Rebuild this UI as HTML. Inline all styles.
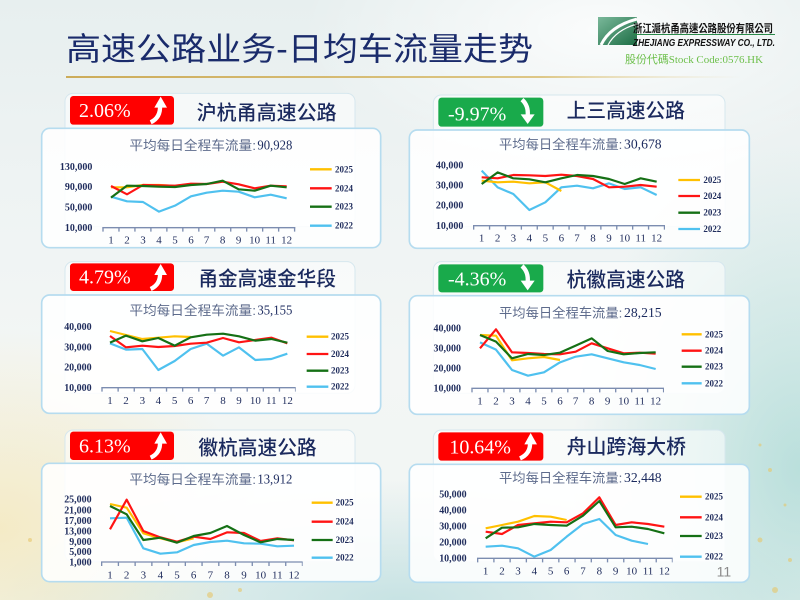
<!DOCTYPE html>
<html>
<head>
<meta charset="utf-8">
<style>
html,body{margin:0;padding:0;}
body{width:800px;height:600px;overflow:hidden;position:relative;
background:
 radial-gradient(ellipse 260px 200px at 0% 88%, rgba(246,226,160,0.55), rgba(246,226,160,0) 100%),
 radial-gradient(ellipse 230px 330px at 100% 78%, rgba(140,205,200,0.55), rgba(140,205,200,0) 100%),
 radial-gradient(ellipse 420px 120px at 50% 100%, rgba(165,212,215,0.55), rgba(165,212,215,0) 100%),
 radial-gradient(ellipse 300px 140px at 75% 5%, rgba(255,255,255,0.8), rgba(255,255,255,0) 100%),
 linear-gradient(180deg,#e7efef 0%,#eef3f3 30%,#f3f6f5 60%,#f1f5f3 100%);}
svg{position:absolute;left:0;top:0;}
.yl{font-family:"Liberation Serif",serif;font-weight:bold;font-size:30px;fill:#1f2c5c;text-anchor:end;}
.xl{font-family:"Liberation Serif",serif;font-size:33px;fill:#1f2c5c;text-anchor:middle;}
.lg{font-family:"Liberation Serif",serif;font-weight:bold;font-size:27px;fill:#1f2c5c;}
.tt{font-family:"Liberation Sans","Noto Sans CJK SC",sans-serif;font-weight:500;font-size:60px;fill:#1b2a5e;}
.st{font-family:"Liberation Sans","Noto Sans CJK SC",sans-serif;font-size:39px;fill:#5d6b8c;}
.num{font-family:"Liberation Serif",serif;font-size:40px;fill:#1b2a5e;}
.bt{font-family:"Liberation Serif",serif;font-size:60px;fill:#ffffff;}
.hc{fill:#ffffff;fill-opacity:0.55;stroke:#d6e7ee;stroke-width:3;}
.cc{fill:#ffffff;fill-opacity:0.86;stroke:#b6dcef;stroke-width:5;}
.ax{stroke:#7c8db0;stroke-width:4;fill:none;}
.tk{stroke:#7c8db0;stroke-width:12;fill:none;}
.o{stroke:#ffc000;stroke-width:6.5;fill:none;stroke-linejoin:round;}
.r{stroke:#ff1414;stroke-width:6.5;fill:none;stroke-linejoin:round;}
.g{stroke:#157015;stroke-width:6.5;fill:none;stroke-linejoin:round;}
.b{stroke:#4fc1ef;stroke-width:6.5;fill:none;stroke-linejoin:round;}
.lo{stroke:#ffc000;stroke-width:7;}
.lr{stroke:#ff1414;stroke-width:7;}
.lgr{stroke:#157015;stroke-width:7;}
.lb{stroke:#4fc1ef;stroke-width:7;}
</style>
</head>
<body>
<svg width="800" height="600" viewBox="0 0 800 600" xmlns="http://www.w3.org/2000/svg">
<defs>
<linearGradient id="gold" x1="0" x2="1" y1="0" y2="0">
<stop offset="0" stop-color="#c9a449" stop-opacity="0.9"/>
<stop offset="0.7" stop-color="#d8bb6a" stop-opacity="0.8"/>
<stop offset="1" stop-color="#e8d9a8" stop-opacity="0"/>
</linearGradient>
<linearGradient id="logoG" x1="0" x2="1" y1="0" y2="1">
<stop offset="0" stop-color="#7ab89a"/>
<stop offset="1" stop-color="#1d6e45"/>
</linearGradient>
</defs>

<g fill="#e6c76a" opacity="0.6">
<circle cx="770" cy="470" r="2"/><circle cx="785" cy="505" r="1.5"/><circle cx="760" cy="540" r="2.5"/>
<circle cx="790" cy="560" r="2"/><circle cx="775" cy="590" r="3"/><circle cx="30" cy="540" r="2"/>
<circle cx="210" cy="595" r="3"/><circle cx="240" cy="590" r="2"/><circle cx="760" cy="445" r="1.5"/>
</g>

<text x="66" y="60" textLength="467" lengthAdjust="spacingAndGlyphs" style="font-family:'Liberation Sans','Noto Sans CJK SC',sans-serif;font-size:32px;fill:#1a2b6b;">高速公路业务-日均车流量走势</text>
<rect x="66" y="76" width="676" height="2" fill="url(#gold)"/>

<polygon points="598,17 637,17 637,45 598,45" fill="url(#logoG)"/>
<path d="M601,45 Q610,26 637,19" stroke="#ffffff" stroke-width="3" fill="none"/>
<path d="M608,45 Q616,30 637,24" stroke="#ffffff" stroke-width="1.2" fill="none"/>
<text x="633" y="32" textLength="140" lengthAdjust="spacingAndGlyphs" style="font-family:'Liberation Sans','Noto Sans CJK TC',sans-serif;font-weight:bold;font-size:11px;fill:#111;">浙江滬杭甬高速公路股份有限公司</text>
<rect x="633" y="34" width="142" height="1" fill="#2a8a4a"/>
<text x="633" y="46" textLength="142" lengthAdjust="spacingAndGlyphs" style="font-family:'Liberation Sans',sans-serif;font-weight:bold;font-style:italic;font-size:10px;fill:#111;">ZHEJIANG EXPRESSWAY CO., LTD.</text>
<text x="625" y="63" textLength="138" lengthAdjust="spacingAndGlyphs" style="font-family:'Liberation Serif','Noto Sans CJK TC',serif;font-size:11px;fill:#6cbf4a;">股份代碼Stock Code:0576.HK</text>

<!-- ===== Panel 1 ===== -->
<g transform="translate(40,85) scale(0.333333)">
<rect class="hc" x="75" y="25" width="870" height="400" rx="24"/>
<rect class="cc" x="5" y="130" width="1017" height="358" rx="24"/>
<rect x="90" y="33" width="312" height="86" rx="10" fill="#ff0000"/>
<text class="bt" x="117" y="96">2.06%</text>
<path d="M332,112 Q362,98 360,62" stroke="#fff" stroke-width="13" fill="none"/>
<polygon points="362,35 381,68 343,68" fill="#fff"/>
<text class="tt" x="470" y="103" textLength="420" lengthAdjust="spacingAndGlyphs">沪杭甬高速公路</text>
<text class="st" x="268" y="195" textLength="380" lengthAdjust="spacingAndGlyphs">平均每日全程车流量:</text>
<text class="num" x="652" y="194" textLength="105" lengthAdjust="spacingAndGlyphs">90,928</text>
<text class="yl" x="157" y="255">130,000</text>
<text class="yl" x="157" y="315">90,000</text>
<text class="yl" x="157" y="377">50,000</text>
<text class="yl" x="157" y="438">10,000</text>
<line class="ax" x1="187" y1="428" x2="766" y2="428"/>
<line class="tk" x1="187" y1="434" x2="766" y2="434" stroke-dasharray="4 43.9"/>
<g class="xl">
<text x="213" y="475">1</text><text x="261" y="475">2</text><text x="309" y="475">3</text><text x="357" y="475">4</text>
<text x="405" y="475">5</text><text x="453" y="475">6</text><text x="500" y="475">7</text><text x="548" y="475">8</text>
<text x="596" y="475">9</text><text x="644" y="475">10</text><text x="692" y="475">11</text><text x="740" y="475">12</text>
</g>
<polyline class="b" points="213,335 261,349 309,351 357,380 405,362 453,334 500,323 548,317 596,320 644,337 692,329 740,340"/>
<polyline class="o" points="213,307 261,307 309,300 357,300 405,303 453,297"/>
<polyline class="r" points="213,303 261,328 309,300 357,301 405,302 453,296 500,297 548,290 596,298 644,310 692,302 740,304"/>
<polyline class="g" points="213,338 261,302 309,303 357,305 405,306 453,300 500,297 548,287 596,313 644,317 692,302 740,307"/>
<line class="lo" x1="810" y1="253" x2="875" y2="253"/><text class="lg" x="885" y="262">2025</text>
<line class="lr" x1="810" y1="310" x2="875" y2="310"/><text class="lg" x="885" y="319">2024</text>
<line class="lgr" x1="810" y1="365" x2="875" y2="365"/><text class="lg" x="885" y="374">2023</text>
<line class="lb" x1="810" y1="422" x2="875" y2="422"/><text class="lg" x="885" y="431">2022</text>
</g>

<!-- ===== Panel 2 ===== -->
<g transform="translate(400,85) scale(0.333333)">
<rect class="hc" x="100" y="30" width="875" height="395" rx="24"/>
<rect class="cc" x="28" y="135" width="1020" height="355" rx="24"/>
<rect x="115" y="38" width="315" height="87" rx="10" fill="#19aa4b"/>
<text class="bt" x="144" y="106">-9.97%</text>
<path d="M366,44 Q386,62 383,92" stroke="#fff" stroke-width="13" fill="none"/>
<polygon points="362,88 404,88 383,117" fill="#fff"/>
<text class="tt" x="500" y="98" textLength="355" lengthAdjust="spacingAndGlyphs">上三高速公路</text>
<text class="st" x="297" y="192" textLength="370" lengthAdjust="spacingAndGlyphs">平均每日全程车流量:</text>
<text class="num" x="672" y="191" textLength="113" lengthAdjust="spacingAndGlyphs">30,678</text>
<text class="yl" x="190" y="250">40,000</text>
<text class="yl" x="190" y="310">30,000</text>
<text class="yl" x="190" y="370">20,000</text>
<text class="yl" x="190" y="432">10,000</text>
<line class="ax" x1="219" y1="422" x2="795" y2="422"/>
<line class="tk" x1="219" y1="428" x2="795" y2="428" stroke-dasharray="4 43.7"/>
<g class="xl">
<text x="245" y="470">1</text><text x="293" y="470">2</text><text x="340" y="470">3</text><text x="388" y="470">4</text>
<text x="436" y="470">5</text><text x="484" y="470">6</text><text x="531" y="470">7</text><text x="579" y="470">8</text>
<text x="627" y="470">9</text><text x="674" y="470">10</text><text x="722" y="470">11</text><text x="770" y="470">12</text>
</g>
<polyline class="b" points="245,257 293,307 340,327 388,375 436,352 484,307 531,302 579,310 627,295 674,312 722,307 770,330"/>
<polyline class="o" points="245,287 293,292 340,290 388,295 436,292 484,318"/>
<polyline class="r" points="245,277 293,280 340,270 388,271 436,273 484,269 531,273 579,282 627,307 674,305 722,300 770,305"/>
<polyline class="g" points="245,297 293,262 340,280 388,283 436,292 484,280 531,270 579,273 627,282 674,297 722,280 770,290"/>
<line class="lo" x1="835" y1="285" x2="900" y2="285"/><text class="lg" x="910" y="294">2025</text>
<line class="lr" x1="835" y1="333" x2="900" y2="333"/><text class="lg" x="910" y="342">2024</text>
<line class="lgr" x1="835" y1="383" x2="900" y2="383"/><text class="lg" x="910" y="392">2023</text>
<line class="lb" x1="835" y1="432" x2="900" y2="432"/><text class="lg" x="910" y="441">2022</text>
</g>

<!-- ===== Panel 3 ===== -->
<g transform="translate(40,255) scale(0.333333)">
<rect class="hc" x="75" y="20" width="870" height="395" rx="24"/>
<rect class="cc" x="5" y="120" width="1017" height="355" rx="24"/>
<rect x="90" y="25" width="312" height="83" rx="10" fill="#ff0000"/>
<text class="bt" x="117" y="86">4.79%</text>
<path d="M332,102 Q362,88 360,54" stroke="#fff" stroke-width="13" fill="none"/>
<polygon points="362,27 381,60 343,60" fill="#fff"/>
<text class="tt" x="475" y="91" textLength="413" lengthAdjust="spacingAndGlyphs">甬金高速金华段</text>
<text class="st" x="268" y="180" textLength="380" lengthAdjust="spacingAndGlyphs">平均每日全程车流量:</text>
<text class="num" x="652" y="179" textLength="105" lengthAdjust="spacingAndGlyphs">35,155</text>
<text class="yl" x="155" y="225">40,000</text>
<text class="yl" x="155" y="287">30,000</text>
<text class="yl" x="155" y="347">20,000</text>
<text class="yl" x="155" y="408">10,000</text>
<line class="ax" x1="184" y1="398" x2="767" y2="398"/>
<line class="tk" x1="184" y1="404" x2="767" y2="404" stroke-dasharray="4 44.4"/>
<g class="xl">
<text x="210" y="447">1</text><text x="258" y="447">2</text><text x="307" y="447">3</text><text x="355" y="447">4</text>
<text x="404" y="447">5</text><text x="452" y="447">6</text><text x="500" y="447">7</text><text x="549" y="447">8</text>
<text x="597" y="447">9</text><text x="646" y="447">10</text><text x="694" y="447">11</text><text x="742" y="447">12</text>
</g>
<polyline class="b" points="210,265 258,284 307,282 355,345 404,318 452,282 500,266 549,302 597,277 646,315 694,312 742,296"/>
<polyline class="o" points="210,228 258,240 307,252 355,248 404,244 452,246"/>
<polyline class="r" points="210,243 258,277 307,272 355,276 404,273 452,266 500,263 549,249 597,262 646,255 694,248 742,265"/>
<polyline class="g" points="210,263 258,242 307,259 355,249 404,272 452,247 500,239 549,236 597,244 646,257 694,252 742,263"/>
<line class="lo" x1="800" y1="245" x2="865" y2="245"/><text class="lg" x="873" y="254">2025</text>
<line class="lr" x1="800" y1="297" x2="865" y2="297"/><text class="lg" x="873" y="306">2024</text>
<line class="lgr" x1="800" y1="347" x2="865" y2="347"/><text class="lg" x="873" y="356">2023</text>
<line class="lb" x1="800" y1="395" x2="865" y2="395"/><text class="lg" x="873" y="404">2022</text>
</g>

<!-- ===== Panel 4 ===== -->
<g transform="translate(400,255) scale(0.333333)">
<rect class="hc" x="100" y="20" width="875" height="395" rx="24"/>
<rect class="cc" x="28" y="122" width="1020" height="356" rx="24"/>
<rect x="115" y="28" width="315" height="84" rx="10" fill="#19aa4b"/>
<text class="bt" x="144" y="92">-4.36%</text>
<path d="M366,33 Q386,51 383,81" stroke="#fff" stroke-width="13" fill="none"/>
<polygon points="362,77 404,77 383,106" fill="#fff"/>
<text class="tt" x="500" y="95" textLength="355" lengthAdjust="spacingAndGlyphs">杭徽高速公路</text>
<text class="st" x="297" y="187" textLength="370" lengthAdjust="spacingAndGlyphs">平均每日全程车流量:</text>
<text class="num" x="672" y="186" textLength="113" lengthAdjust="spacingAndGlyphs">28,215</text>
<text class="yl" x="183" y="230">40,000</text>
<text class="yl" x="183" y="290">30,000</text>
<text class="yl" x="183" y="350">20,000</text>
<text class="yl" x="183" y="410">10,000</text>
<line class="ax" x1="214" y1="400" x2="792" y2="400"/>
<line class="tk" x1="214" y1="406" x2="792" y2="406" stroke-dasharray="4 43.9"/>
<g class="xl">
<text x="240" y="448">1</text><text x="288" y="448">2</text><text x="336" y="448">3</text><text x="384" y="448">4</text>
<text x="432" y="448">5</text><text x="480" y="448">6</text><text x="527" y="448">7</text><text x="575" y="448">8</text>
<text x="623" y="448">9</text><text x="671" y="448">10</text><text x="719" y="448">11</text><text x="767" y="448">12</text>
</g>
<polyline class="b" points="240,262 288,284 336,345 384,362 432,352 480,322 527,305 575,298 623,310 671,322 719,330 767,342"/>
<polyline class="o" points="240,240 288,242 336,316 384,310 432,306 480,315"/>
<polyline class="r" points="240,280 288,223 336,292 384,294 432,297 480,298 527,290 575,265 623,280 671,295 719,293 767,296"/>
<polyline class="g" points="240,240 288,260 336,310 384,297 432,300 480,293 527,272 575,250 623,288 671,298 719,294 767,292"/>
<line class="lo" x1="845" y1="238" x2="905" y2="238"/><text class="lg" x="915" y="247">2025</text>
<line class="lr" x1="845" y1="287" x2="905" y2="287"/><text class="lg" x="915" y="296">2024</text>
<line class="lgr" x1="845" y1="335" x2="905" y2="335"/><text class="lg" x="915" y="344">2023</text>
<line class="lb" x1="845" y1="385" x2="905" y2="385"/><text class="lg" x="915" y="394">2022</text>
</g>

<!-- ===== Panel 5 ===== -->
<g transform="translate(40,425) scale(0.333333)">
<rect class="hc" x="75" y="15" width="870" height="395" rx="24"/>
<rect class="cc" x="5" y="115" width="1017" height="355" rx="24"/>
<rect x="90" y="20" width="312" height="85" rx="10" fill="#ff0000"/>
<text class="bt" x="117" y="83">6.13%</text>
<path d="M332,98 Q362,84 360,50" stroke="#fff" stroke-width="13" fill="none"/>
<polygon points="362,22 381,56 343,56" fill="#fff"/>
<text class="tt" x="475" y="88" textLength="355" lengthAdjust="spacingAndGlyphs">徽杭高速公路</text>
<text class="st" x="268" y="177" textLength="380" lengthAdjust="spacingAndGlyphs">平均每日全程车流量:</text>
<text class="num" x="652" y="176" textLength="105" lengthAdjust="spacingAndGlyphs">13,912</text>
<text class="yl" x="155" y="232">25,000</text>
<text class="yl" x="155" y="265">21,000</text>
<text class="yl" x="155" y="297">17,000</text>
<text class="yl" x="155" y="328">13,000</text>
<text class="yl" x="155" y="360">9,000</text>
<text class="yl" x="155" y="390">5,000</text>
<text class="yl" x="155" y="421">1,000</text>
<line class="ax" x1="183" y1="411" x2="788" y2="411"/>
<line class="tk" x1="183" y1="417" x2="788" y2="417" stroke-dasharray="4 46.2"/>
<g class="xl">
<text x="210" y="460">1</text><text x="260" y="460">2</text><text x="310" y="460">3</text><text x="361" y="460">4</text>
<text x="411" y="460">5</text><text x="461" y="460">6</text><text x="511" y="460">7</text><text x="561" y="460">8</text>
<text x="612" y="460">9</text><text x="662" y="460">10</text><text x="712" y="460">11</text><text x="762" y="460">12</text>
</g>
<polyline class="b" points="210,280 260,278 310,370 361,386 411,382 461,360 511,351 561,347 612,355 662,356 712,364 762,362"/>
<polyline class="o" points="210,237 260,248 310,325 361,340 411,352 461,340"/>
<polyline class="r" points="210,313 260,224 310,318 361,337 411,350 461,335 511,342 561,322 612,324 662,348 712,340 762,346"/>
<polyline class="g" points="210,243 260,268 310,345 361,338 411,353 461,333 511,324 561,303 612,330 662,352 712,342 762,345"/>
<line class="lo" x1="815" y1="233" x2="878" y2="233"/><text class="lg" x="887" y="242">2025</text>
<line class="lr" x1="815" y1="290" x2="878" y2="290"/><text class="lg" x="887" y="299">2024</text>
<line class="lgr" x1="815" y1="345" x2="878" y2="345"/><text class="lg" x="887" y="354">2023</text>
<line class="lb" x1="815" y1="398" x2="878" y2="398"/><text class="lg" x="887" y="407">2022</text>
</g>

<!-- ===== Panel 6 ===== -->
<g transform="translate(400,425) scale(0.333333)">
<rect class="hc" x="100" y="15" width="875" height="395" rx="24"/>
<rect class="cc" x="28" y="118" width="1020" height="354" rx="24"/>
<rect x="115" y="22" width="315" height="85" rx="10" fill="#ff0000"/>
<text class="bt" x="148" y="85">10.64%</text>
<path d="M360,100 Q392,86 390,52" stroke="#fff" stroke-width="13" fill="none"/>
<polygon points="392,24 411,58 373,58" fill="#fff"/>
<text class="tt" x="500" y="85" textLength="358" lengthAdjust="spacingAndGlyphs">舟山跨海大桥</text>
<text class="st" x="297" y="172" textLength="370" lengthAdjust="spacingAndGlyphs">平均每日全程车流量:</text>
<text class="num" x="672" y="171" textLength="113" lengthAdjust="spacingAndGlyphs">32,448</text>
<text class="yl" x="200" y="217">50,000</text>
<text class="yl" x="200" y="265">40,000</text>
<text class="yl" x="200" y="313">30,000</text>
<text class="yl" x="200" y="362">20,000</text>
<text class="yl" x="200" y="410">10,000</text>
<line class="ax" x1="231" y1="400" x2="818" y2="400"/>
<line class="tk" x1="231" y1="406" x2="818" y2="406" stroke-dasharray="4 44.7"/>
<g class="xl">
<text x="257" y="449">1</text><text x="306" y="449">2</text><text x="354" y="449">3</text><text x="403" y="449">4</text>
<text x="452" y="449">5</text><text x="500" y="449">6</text><text x="549" y="449">7</text><text x="598" y="449">8</text>
<text x="647" y="449">9</text><text x="695" y="449">10</text><text x="744" y="449">11</text><text x="793" y="449">12</text>
</g>
<polyline class="b" points="257,365 306,362 354,370 403,395 452,375 500,335 549,297 598,282 647,330 695,347 744,357"/>
<polyline class="o" points="257,310 306,300 354,290 403,273 452,275 500,285"/>
<polyline class="r" points="257,320 306,327 354,300 403,295 452,290 500,292 549,265 598,217 647,300 695,292 744,297 793,305"/>
<polyline class="g" points="257,340 306,308 354,307 403,297 452,300 500,302 549,272 598,228 647,307 695,305 744,312 793,325"/>
<line class="lo" x1="840" y1="215" x2="905" y2="215"/><text class="lg" x="915" y="224">2025</text>
<line class="lr" x1="840" y1="277" x2="905" y2="277"/><text class="lg" x="915" y="286">2024</text>
<line class="lgr" x1="840" y1="333" x2="905" y2="333"/><text class="lg" x="915" y="342">2023</text>
<line class="lb" x1="840" y1="395" x2="905" y2="395"/><text class="lg" x="915" y="404">2022</text>
<text x="950" y="455" style="font-family:'Liberation Sans',sans-serif;font-size:42px;fill:#8a8a8a;">11</text>
</g>
</svg>
</body>
</html>
